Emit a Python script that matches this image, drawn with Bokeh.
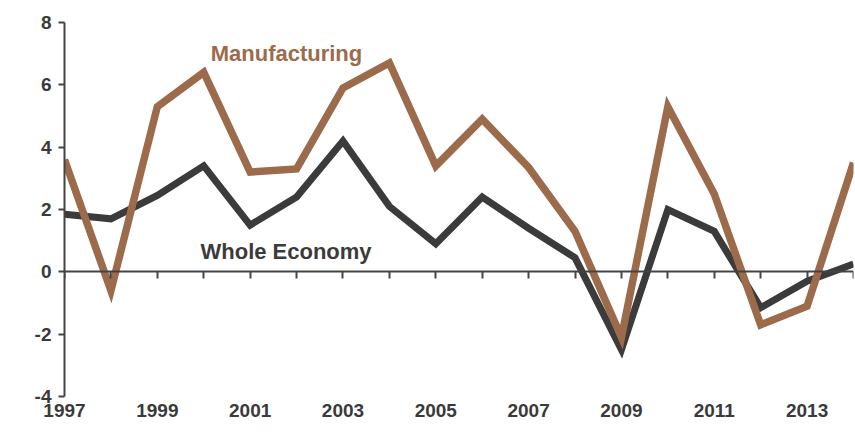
from bokeh.plotting import figure
from bokeh.models import Range1d, LinearAxis, FixedTicker, Label, ColumnDataSource
from bokeh.embed import file_html
from bokeh.resources import INLINE

years = [1997, 1998, 1999, 2000, 2001, 2002, 2003, 2004, 2005, 2006, 2007, 2008, 2009, 2010, 2011, 2012, 2013, 2014]
manufacturing = [3.6, -0.6, 5.3, 6.4, 3.2, 3.3, 5.9, 6.7, 3.4, 4.9, 3.35, 1.3, -2.1, 5.3, 2.5, -1.7, -1.1, 3.5]
whole_economy = [1.85, 1.7, 2.45, 3.4, 1.5, 2.4, 4.2, 2.1, 0.9, 2.4, 1.4, 0.45, -2.5, 2.0, 1.3, -1.15, -0.3, 0.25]
label_years = [1997, 1999, 2001, 2003, 2005, 2007, 2009, 2011, 2013]
y_ticks = [-4, -2, 0, 2, 4, 6, 8]

BROWN = "#9c6b4c"
DARK = "#3b3b3b"
AXIS = "#444444"
FONT = "Liberation Sans"

src = ColumnDataSource(dict(year=years, manu=manufacturing, whole=whole_economy))

p = figure(width=855, height=433, output_backend="svg", toolbar_location=None,
           x_range=Range1d(1997, 2014), y_range=Range1d(-4, 8),
           x_axis_location=None, y_axis_location=None,
           min_border_left=64, min_border_right=2, min_border_top=22, min_border_bottom=37)
p.outline_line_color = None
p.xgrid.visible = False
p.ygrid.visible = False
p.background_fill_color = "white"

# y axis
yax = LinearAxis(ticker=FixedTicker(ticks=y_ticks))
yax.axis_line_color = AXIS
yax.axis_line_width = 2
yax.major_tick_line_color = AXIS
yax.major_tick_line_width = 2
yax.major_tick_in = 0
yax.major_tick_out = 6
yax.minor_tick_line_color = None
yax.major_label_text_font = FONT
yax.major_label_text_font_style = "bold"
yax.major_label_text_font_size = "19px"
yax.major_label_text_color = "#3a3a3a"
yax.major_label_standoff = 7
yax.major_label_overrides = {t: str(t) for t in y_ticks}
p.add_layout(yax, "left")

# x labels at bottom
xlab = LinearAxis(ticker=FixedTicker(ticks=label_years))
xlab.axis_line_color = None
xlab.major_tick_line_color = None
xlab.minor_tick_line_color = None
xlab.major_tick_in = 0
xlab.major_tick_out = 0
xlab.major_label_text_font = FONT
xlab.major_label_text_font_style = "bold"
xlab.major_label_text_font_size = "19px"
xlab.major_label_text_color = "#3a3a3a"
xlab.major_label_standoff = 7
p.add_layout(xlab, "below")

# zero line axis with yearly ticks
zax = LinearAxis(ticker=FixedTicker(ticks=years), fixed_location=0)
zax.axis_line_color = AXIS
zax.axis_line_width = 2
zax.major_tick_line_color = AXIS
zax.major_tick_line_width = 2
zax.major_tick_in = 0
zax.major_tick_out = 7
zax.minor_tick_line_color = None
zax.major_label_text_font_size = "0px"
zax.major_label_text_alpha = 0
p.add_layout(zax, "below")

p.line("year", "whole", source=src, line_color=DARK, line_width=7, line_join="miter")
p.line("year", "manu", source=src, line_color=BROWN, line_width=7.5, line_join="miter")

p.add_layout(Label(x=2000.15, y=7.0, text="Manufacturing", text_font=FONT, text_font_style="bold",
                   text_font_size="22px", text_color=BROWN, text_baseline="alphabetic"))
p.add_layout(Label(x=1999.93, y=0.66, text="Whole Economy", text_font=FONT, text_font_style="bold",
                   text_font_size="22px", text_color=DARK, text_baseline="alphabetic"))

open("out.html", "w").write(file_html(p, INLINE))
